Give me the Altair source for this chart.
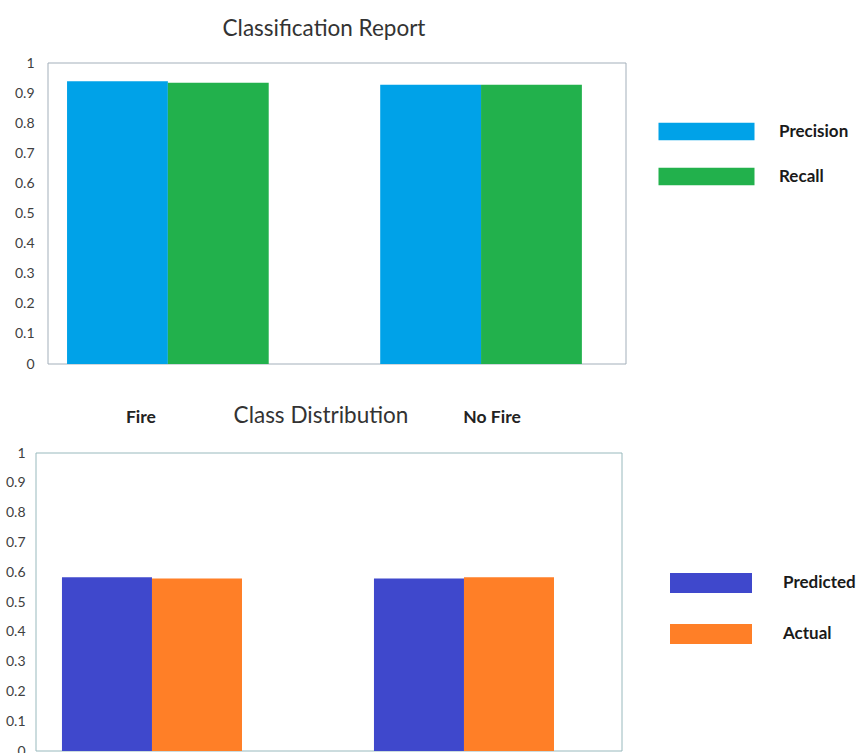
import altair as alt
import pandas as pd

# ---------------- data ----------------
categories = ["Fire", "No Fire"]

report_metrics = ["Precision", "Recall"]
precision = [0.939, 0.928]
recall = [0.934, 0.928]

dist_metrics = ["Predicted", "Actual"]
predicted = [0.583, 0.579]
actual = [0.579, 0.583]

y_ticks = [0, 0.1, 0.2, 0.3, 0.4, 0.5, 0.6, 0.7, 0.8, 0.9, 1]

report_colors = ["#00A2E8", "#22B14C"]
dist_colors = ["#3F48CC", "#FF7F27"]

FONT = "Lato"


def to_long(names, series):
    rows = []
    for name, vals in zip(names, series):
        for c, v in zip(categories, vals):
            rows.append({"Class": c, "Metric": name, "Value": v})
    return pd.DataFrame(rows)


top_df = to_long(report_metrics, [precision, recall])
bot_df = to_long(dist_metrics, [predicted, actual])

W = 590


def panel(df, metrics, colors, title, title_dx, title_offset, height,
          x_scale, x_axis, frame_x, frame_x2, frame_color, legend,
          y_label_pad):
    bars = alt.Chart(df).mark_bar(strokeWidth=0).encode(
        x=alt.X("Class:N", sort=categories, scale=x_scale, axis=x_axis),
        xOffset=alt.XOffset("Metric:N", sort=metrics,
                            scale=alt.Scale(domain=metrics, paddingInner=0,
                                            paddingOuter=0)),
        y=alt.Y("Value:Q", scale=alt.Scale(domain=[0, 1], nice=False),
                axis=alt.Axis(values=y_ticks, format="~g", ticks=False,
                              domain=False, grid=False, title=None,
                              labelPadding=y_label_pad, labelFont=FONT,
                              labelFontSize=14, labelColor="#404040")),
        color=alt.Color("Metric:N", sort=metrics,
                        scale=alt.Scale(domain=metrics, range=colors),
                        legend=legend),
    )
    frame = alt.Chart(alt.Data(values=[{}])).mark_rect(
        fill="transparent", stroke=frame_color, strokeWidth=1
    ).encode(
        x=alt.value(frame_x), x2=alt.value(frame_x2),
        y=alt.value(0), y2=alt.value(height),
    )
    return alt.layer(frame, bars).properties(
        width=W, height=height,
        title=alt.TitleParams(text=title, font=FONT, fontSize=22.5,
                              fontWeight="normal", color="#333333",
                              anchor="middle", dx=title_dx,
                              offset=title_offset),
    )


top_legend = alt.Legend(
    title=None, orient="none", legendX=646.5, legendY=44.5, padding=0,
    symbolType="M-2,-0.364H2V0.364H-2Z", symbolSize=2304,
    symbolStrokeWidth=0, symbolOpacity=1,
    labelFont=FONT, labelFontSize=17, labelFontWeight="bold",
    labelColor="#1a1a1a", labelOffset=48.5, rowPadding=12,
)
bot_legend = alt.Legend(
    title=None, orient="none", legendX=654.5, legendY=109.5, padding=0,
    symbolType="M-2,-0.488H2V0.488H-2Z", symbolSize=1681,
    symbolStrokeWidth=0, symbolOpacity=1,
    labelFont=FONT, labelFontSize=17, labelFontWeight="bold",
    labelColor="#1a1a1a", labelOffset=51.5, rowPadding=20,
)

top = panel(
    top_df, report_metrics, report_colors, "Classification Report",
    -7, 16, 301,
    alt.Scale(paddingInner=0.356, paddingOuter=0.12, align=0.413),
    alt.Axis(title=None, ticks=False, domain=False, labelAngle=0,
             labelFont=FONT, labelFontWeight="bold", labelFontSize=17.5,
             labelColor="#222222", labelPadding=44,
             labelOffset={"condition": {"test": "datum.value === 'Fire'",
                                        "value": -27},
                          "value": 11}),
    12, 590, "#a3afba", top_legend, 2,
)
bottom = panel(
    bot_df, dist_metrics, dist_colors, "Class Distribution",
    -10, 18.5, 298,
    alt.Scale(paddingInner=0.423, paddingOuter=0.157, align=0.265),
    None,
    0, 586, "#98b9bd", bot_legend, 11,
)

chart = alt.vconcat(top, bottom, spacing=89, bounds="flush").resolve_scale(
    color="independent", x="independent", xOffset="independent"
).configure_view(stroke=None).properties(
    padding={"left": 5, "top": 17, "right": 0, "bottom": 0},
    background="white",
)

chart.save("out.html", embed_options={"renderer": "svg", "actions": False})
